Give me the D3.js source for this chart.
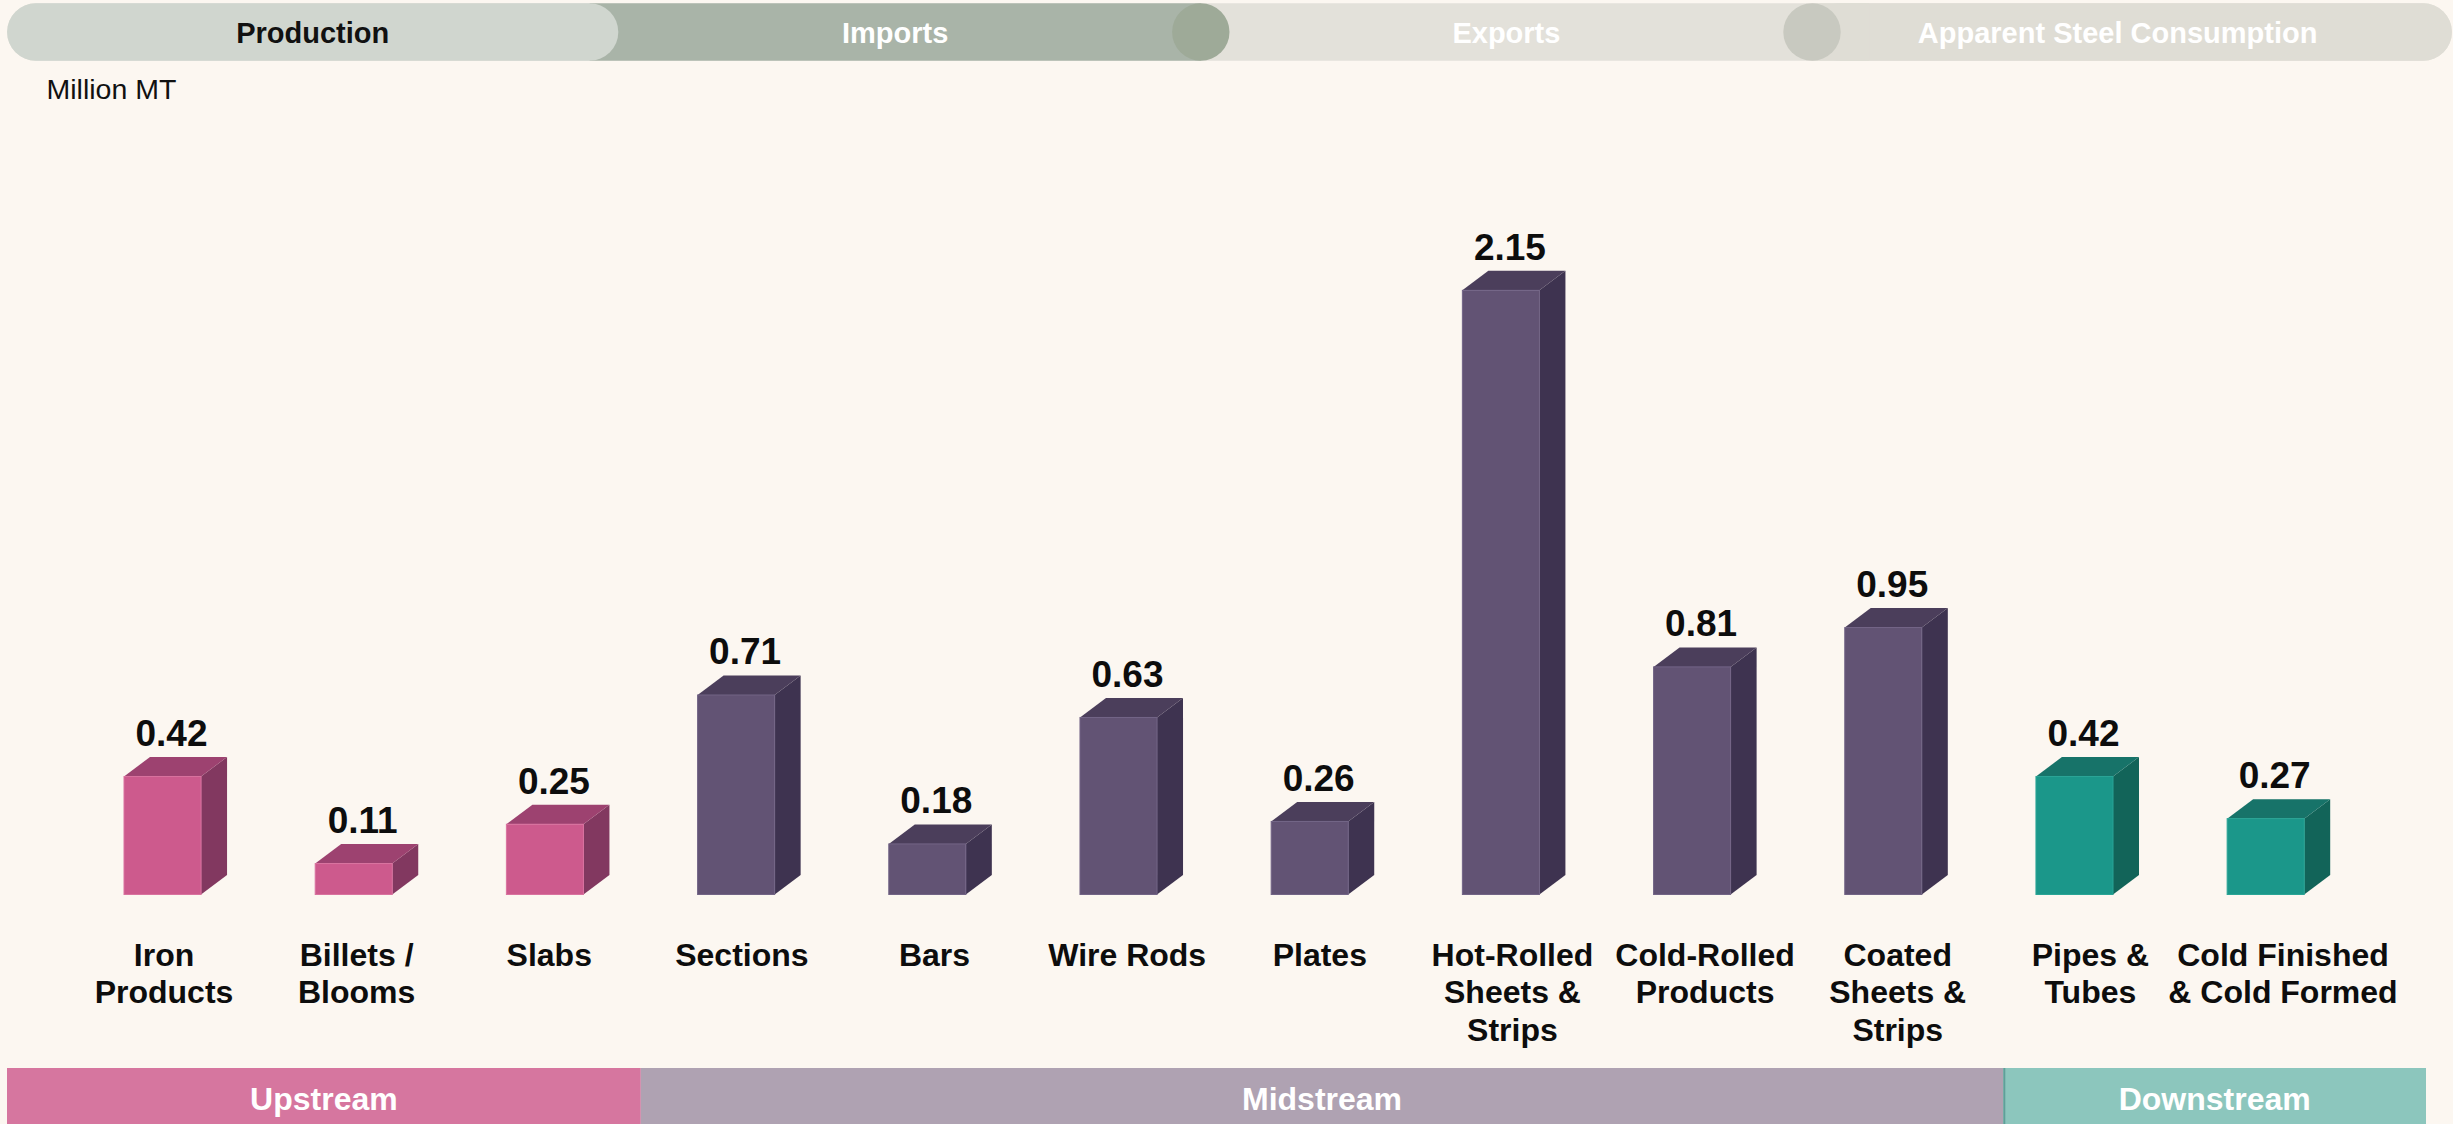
<!DOCTYPE html>
<html>
<head>
<meta charset="utf-8">
<script src="https://cdn.jsdelivr.net/npm/d3@7"></script>
<style>
  html, body { margin: 0; padding: 0; background: #fcf7f1; }
  svg { display: block; }
  text { font-family: "Liberation Sans", Arial, Helvetica, sans-serif; }
</style>
</head>
<body>
<svg id="chart" width="2453" height="1124"></svg>
<script>
// ---- data ----
const categories = [
  "Iron\nProducts", "Billets /\nBlooms", "Slabs", "Sections", "Bars", "Wire Rods",
  "Plates", "Hot-Rolled\nSheets &\nStrips", "Cold-Rolled\nProducts",
  "Coated\nSheets &\nStrips", "Pipes &\nTubes", "Cold Finished\n& Cold Formed"
];
const production = [0.42, 0.11, 0.25, 0.71, 0.18, 0.63, 0.26, 2.15, 0.81, 0.95, 0.42, 0.27];
const stageOfCategory = [
  "Upstream", "Upstream", "Upstream",
  "Midstream", "Midstream", "Midstream", "Midstream", "Midstream", "Midstream", "Midstream",
  "Downstream", "Downstream"
];
const stages = ["Upstream", "Midstream", "Downstream"];
const tabs = ["Production", "Imports", "Exports", "Apparent Steel Consumption"];
const unitLabel = "Million MT";

// ---- styling ----
const W = 2453, H = 1124;
const stageColors = {
  Upstream:   { front: "#cd5a8d", top: "#9d4270", side: "#823860", edge: "#d9729f", band: "#d6769f" },
  Midstream:  { front: "#625374", top: "#4b3e5b", side: "#3e3350", edge: "#726486", band: "#afa2b2" },
  Downstream: { front: "#1b978a", top: "#177369", side: "#126459", edge: "#2aa596", band: "#8cc6bd" }
};

const svg = d3.select("#chart");
svg.append("rect").attr("width", W).attr("height", H).attr("fill", "#fcf7f1");

// ---- tab strip ----
const tabTop = 3.3, tabH = 57.4, tabR = tabH / 2;
const tabX = d3.scaleBand().domain(tabs).range([-21.6, 2423.2]);
const tabG = svg.append("g");
const tabEnd = tabX(tabs[3]) + tabX.bandwidth() + tabR;

// base capsule (inactive tabs)
tabG.append("rect")
  .attr("x", tabX(tabs[0]) + tabR).attr("y", tabTop)
  .attr("width", tabEnd - (tabX(tabs[0]) + tabR)).attr("height", tabH)
  .attr("rx", tabR).attr("ry", tabR).attr("fill", "#e3e1da");

// last tab body with its rounded right end and a circular left cap
const lastX = tabX(tabs[3]);
tabG.append("rect")
  .attr("x", lastX).attr("y", tabTop).attr("width", tabEnd - lastX).attr("height", tabH)
  .attr("rx", tabR).attr("ry", tabR).attr("fill", "#dfddd5");
tabG.append("rect")
  .attr("x", lastX).attr("y", tabTop).attr("width", tabR * 2).attr("height", tabH)
  .attr("fill", "#dfddd5");
tabG.append("circle")
  .attr("cx", lastX).attr("cy", tabTop + tabR).attr("r", tabR).attr("fill", "#c8c9c0");

// second tab body with a circular right cap
const impX = tabX(tabs[1]);
tabG.append("rect")
  .attr("x", impX).attr("y", tabTop).attr("width", tabX.bandwidth()).attr("height", tabH)
  .attr("fill", "#a9b4a8");
tabG.append("circle")
  .attr("cx", impX + tabX.bandwidth()).attr("cy", tabTop + tabR).attr("r", tabR)
  .attr("fill", "#9eaa98");

// active tab capsule
const prodX = tabX(tabs[0]) + tabR;
tabG.append("rect")
  .attr("x", prodX).attr("y", tabTop).attr("width", tabX.bandwidth()).attr("height", tabH)
  .attr("rx", tabR).attr("ry", tabR).attr("fill", "#d0d6cf");

tabG.selectAll("text.tab")
  .data(tabs)
  .join("text")
  .attr("class", "tab")
  .attr("x", (d, i) => tabX(d) + tabX.bandwidth() / 2 + (i === 0 ? tabR : 0))
  .attr("y", 43.3)
  .attr("text-anchor", "middle")
  .attr("font-size", 29)
  .attr("font-weight", "bold")
  .attr("fill", (d, i) => i === 0 ? "#111" : "#ffffff")
  .text(d => d);

// unit label
svg.append("text")
  .attr("x", 46.5).attr("y", 99.3)
  .attr("font-size", 28.5)
  .attr("fill", "#111")
  .text(unitLabel);

// ---- scales ----
const x = d3.scaleBand()
  .domain(categories)
  .range([124, 2304.2])
  .paddingInner(0.597)
  .paddingOuter(0);
const xLabel = d3.scalePoint().domain(categories).range([164, 2283]);
const y = d3.scaleLinear().domain([0, 2.5]).range([894.5, 192]);

const depthX = 26, depthY = 19.5;
const bw = x.bandwidth();

const rows = categories.map((c, i) => ({
  cat: c, value: production[i], stage: stageOfCategory[i]
}));

// ---- 3D bars ----
const bars = svg.append("g").selectAll("g.bar")
  .data(rows)
  .join("g")
  .attr("class", "bar");

// side face
bars.append("path")
  .attr("d", d => {
    const x0 = x(d.cat) + bw, yt = y(d.value), yb = y(0);
    return `M${x0},${yt} L${x0 + depthX},${yt - depthY} L${x0 + depthX},${yb - depthY} L${x0},${yb} Z`;
  })
  .attr("fill", d => stageColors[d.stage].side);

// top face
bars.append("path")
  .attr("d", d => {
    const x0 = x(d.cat), yt = y(d.value);
    return `M${x0},${yt} L${x0 + depthX},${yt - depthY} L${x0 + bw + depthX},${yt - depthY} L${x0 + bw},${yt} Z`;
  })
  .attr("fill", d => stageColors[d.stage].top);

// front face
bars.append("rect")
  .attr("x", d => x(d.cat))
  .attr("y", d => y(d.value))
  .attr("width", bw)
  .attr("height", d => y(0) - y(d.value))
  .attr("fill", d => stageColors[d.stage].front)
  .attr("stroke", d => stageColors[d.stage].edge)
  .attr("stroke-width", 1);

// value labels
bars.append("text")
  .attr("x", d => x(d.cat) + bw / 2 + 9)
  .attr("y", d => y(d.value) - depthY - 11)
  .attr("text-anchor", "middle")
  .attr("font-size", 37)
  .attr("font-weight", "bold")
  .attr("fill", "#0d0d0d")
  .text(d => d.value.toFixed(2));

// ---- category labels ----
const catG = svg.append("g");
categories.forEach(c => {
  const t = catG.append("text")
    .attr("x", xLabel(c))
    .attr("y", 966)
    .attr("text-anchor", "middle")
    .attr("font-size", 32)
    .attr("font-weight", "bold")
    .attr("fill", "#0d0d0d");
  c.split("\n").forEach((line, k) => {
    t.append("tspan")
      .attr("x", xLabel(c))
      .attr("y", 966 + k * 37.3)
      .text(line);
  });
});

// ---- stage bands ----
const bandEdges = [7, 640.8, 2003.3, 2426];
const bandTop = 1068;
const bandG = svg.append("g");
stages.forEach((s, i) => {
  const x0 = bandEdges[i], x1 = bandEdges[i + 1];
  bandG.append("rect")
    .attr("x", x0).attr("y", bandTop)
    .attr("width", x1 - x0).attr("height", H - bandTop)
    .attr("fill", stageColors[s].band);
  bandG.append("text")
    .attr("x", (x0 + x1) / 2)
    .attr("y", 1110)
    .attr("text-anchor", "middle")
    .attr("font-size", 32)
    .attr("font-weight", "bold")
    .attr("fill", "#ffffff")
    .text(s);
});
bandG.append("line")
  .attr("x1", bandEdges[2] + 1).attr("x2", bandEdges[2] + 1)
  .attr("y1", bandTop).attr("y2", H)
  .attr("stroke", "#5f9f99").attr("stroke-width", 2);
</script>
</body>
</html>
